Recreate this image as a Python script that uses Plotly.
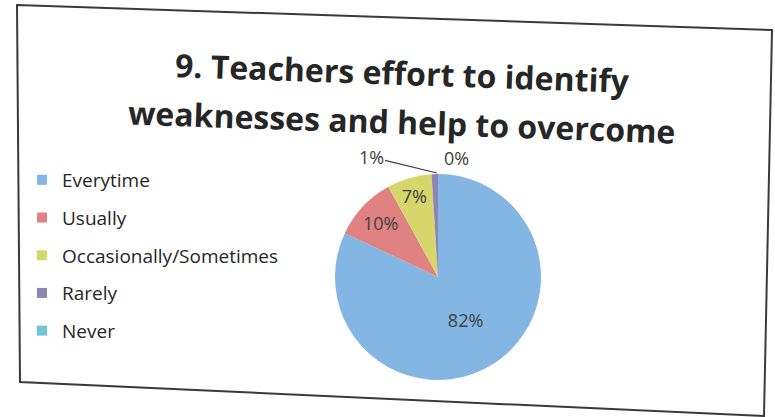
import plotly.graph_objects as go

categories = ["Everytime", "Usually", "Occasionally/Sometimes", "Rarely", "Never"]
values = [82, 10, 7, 1, 0]
colors = ["#84b6e4", "#e08282", "#d6d66c", "#8e84b6", "#72c4d8"]
title_lines = ["9. Teachers effort to identify", "weaknesses and help to overcome"]

W, H = 775, 417

def px(x):
    return x / W

def py(y):
    return 1 - y / H

total = sum(values)
pct = [f"{round(v / total * 100)}%" for v in values]

fig = go.Figure()

fig.add_trace(go.Pie(
    labels=categories,
    values=values,
    marker=dict(colors=colors, line=dict(width=0)),
    sort=False,
    direction="clockwise",
    rotation=0,
    texttemplate="%{percent:.0%}",
    textposition=["inside", "inside", "inside", "none", "none"],
    insidetextorientation="horizontal",
    textfont=dict(family="Open Sans", size=18, color="#404040"),
    showlegend=False,
    domain=dict(x=[px(335), px(541)], y=[py(380), py(174)]),
    hoverinfo="label+percent",
))

# legend entries (one group per category, so spacing can be controlled)
for cat, col in zip(categories, colors):
    fig.add_trace(go.Scatter(
        x=[None], y=[None], mode="markers", name=cat,
        marker=dict(symbol="square", size=10, color=col),
        legendgroup=cat, showlegend=True,
    ))

fig.update_xaxes(visible=False)
fig.update_yaxes(visible=False)

# labels of the two smallest slices, placed outside as in the original
fig.add_annotation(text=pct[3], x=px(437), y=py(173), xref="paper", yref="paper",
                   showarrow=True, arrowhead=0, arrowwidth=1.2, arrowcolor="#404040",
                   ax=-66, ay=-16, font=dict(family="Open Sans", size=18, color="#404040"))
fig.add_annotation(text=pct[4], x=px(456), y=py(158), xref="paper", yref="paper",
                   showarrow=False, xanchor="center", yanchor="middle",
                   font=dict(family="Open Sans", size=18, color="#404040"))

# tilted chart frame (photo of a slide)
frame = f"M {px(17)} {py(5)} L {px(772)} {py(30)} L {px(764)} {py(416)} L {px(20)} {py(382)} Z"
fig.add_shape(type="path", path=frame, xref="paper", yref="paper",
              line=dict(color="#3a3a3a", width=2), fillcolor="rgba(0,0,0,0)", layer="below")

for line, yc in zip(title_lines, [72, 122]):
    fig.add_annotation(text=f"<b>{line}</b>", x=px(402), y=py(yc), xref="paper", yref="paper",
                       showarrow=False, textangle=2, xanchor="center", yanchor="middle",
                       font=dict(family="Open Sans", size=32, color="#262626"))

fig.update_layout(
    width=W, height=H,
    margin=dict(l=0, r=0, t=0, b=0, autoexpand=False),
    paper_bgcolor="white", plot_bgcolor="white",
    legend=dict(x=px(22), y=py(161), xanchor="left", yanchor="top",
                font=dict(family="Open Sans", size=19, color="#262626"),
                traceorder="grouped", tracegroupgap=10, itemwidth=30,
                bgcolor="rgba(0,0,0,0)"),
)

fig.write_html(
    "out.html",
    config={"responsive": False, "displayModeBar": False},
    post_script="document.body.style.margin='0px';document.body.style.overflow='hidden';",
)
